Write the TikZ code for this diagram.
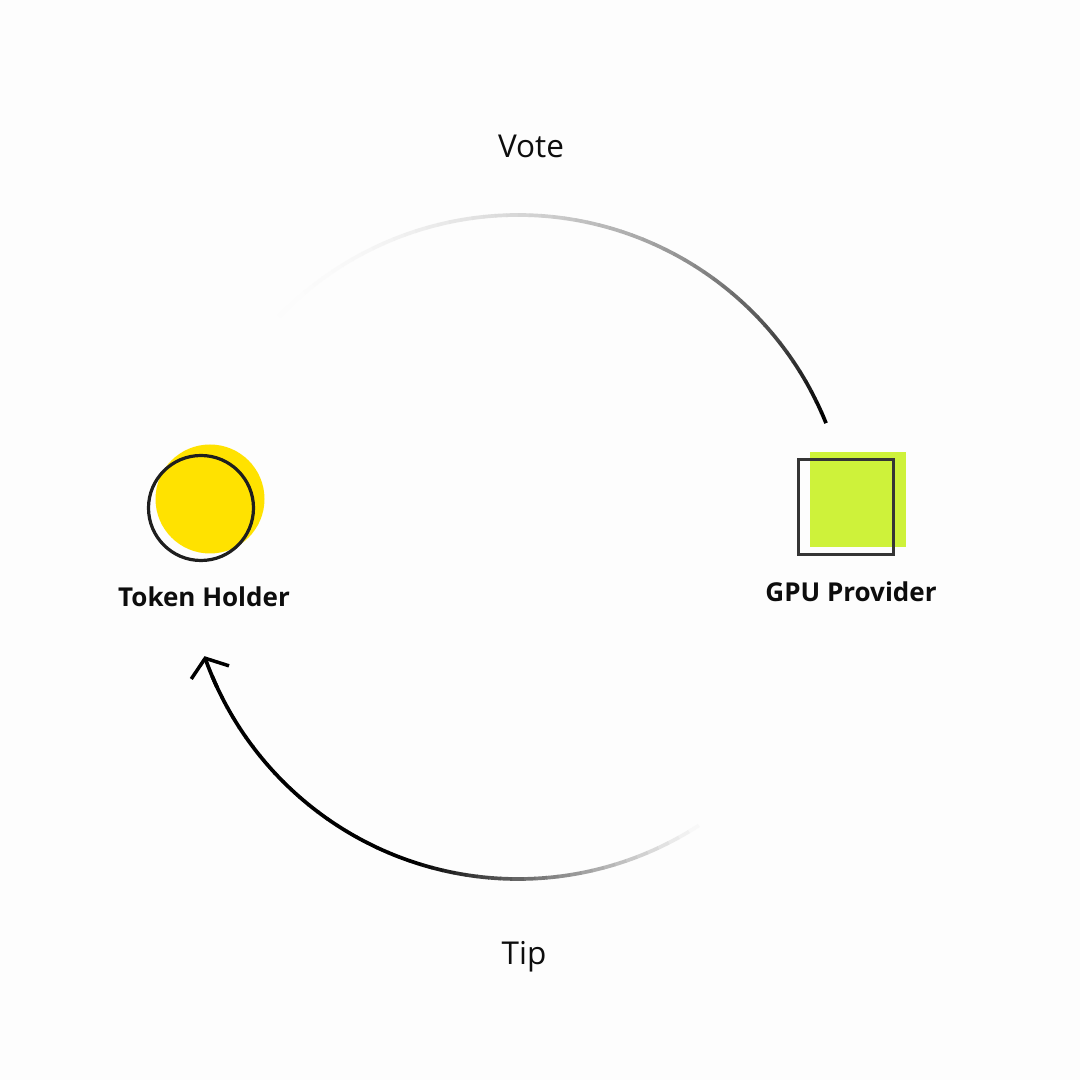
\documentclass[tikz,border=0pt]{standalone}
\usepackage{fontspec}
\setmainfont{Open Sans}
\usetikzlibrary{arrows.meta,calc}
\definecolor{tokyellow}{RGB}{255,226,0}
\definecolor{gpugreen}{RGB}{206,242,58}
\definecolor{outl}{RGB}{30,30,30}
\definecolor{bg}{RGB}{253,253,253}
\begin{document}
\begin{tikzpicture}[x=1pt,y=1pt,
  lbl/.style={font=\fontsize{31.5}{36}\selectfont, text=black!95},
  role/.style={font=\bfseries\fontsize{26}{30}\selectfont, text=black!95},
  arcline/.style={line width=3.7pt},
]
\fill[bg] (0,0) rectangle (1080,1080);
\useasboundingbox (0,0) rectangle (1080,1080);
\coordinate (c) at (518,533);
\def\R{332}
% Token holder
\node[circle, fill=tokyellow, minimum size=109pt, inner sep=0pt] (yel) at (210,581) {};
\node[circle, draw=outl, line width=3.2pt, minimum size=105pt, inner sep=0pt] (th) at (201,572) {};
\node[role] (thl) at (204,483) {Token Holder};
% GPU provider
\node[rectangle, fill=gpugreen, minimum width=96pt, minimum height=95pt, inner sep=0pt] (grn) at (858,580.5) {};
\node[rectangle, draw=outl!90!white, line width=2.8pt, minimum width=95pt, minimum height=95pt, inner sep=0pt] (gpu) at (846,573) {};
\node[role] (gpul) at (851,488) {GPU Provider};
% labels
\node[lbl] (vote) at (531,934) {Vote};
\node[lbl] (tip) at (524,123) {Tip};
% top arc (Vote): fades in from 142 deg to 22 deg
\foreach \i in {0,...,59}{
  \pgfmathsetmacro\a{142-2*\i}
  \pgfmathsetmacro\b{\a-2.1}
  \pgfmathsetmacro\p{100*((\i+1)/60)^2.3}
  \draw[arcline, black!\p!bg] (c) ++(\a:\R) arc[start angle=\a, end angle=\b, radius=\R];
}
% bottom arc (Tip): fades in from 303 deg to 200 deg
\foreach \i in {0,...,49}{
  \pgfmathsetmacro\a{303-2*\i}
  \pgfmathsetmacro\b{\a-2.1}
  \pgfmathsetmacro\t{min(1,(\i+1)/26)}
  \pgfmathsetmacro\p{100*(\t)^1.2}
  \draw[arcline, black!\p!bg] (c) ++(\a:\R) arc[start angle=\a, end angle=\b, radius=\R];
}
\draw[arcline, -{Straight Barb[length=15pt,width=40pt,line width=3.5pt]}] (c) ++(205:\R) arc[start angle=205, end angle=199.2, radius=\R];
\end{tikzpicture}
\end{document}
